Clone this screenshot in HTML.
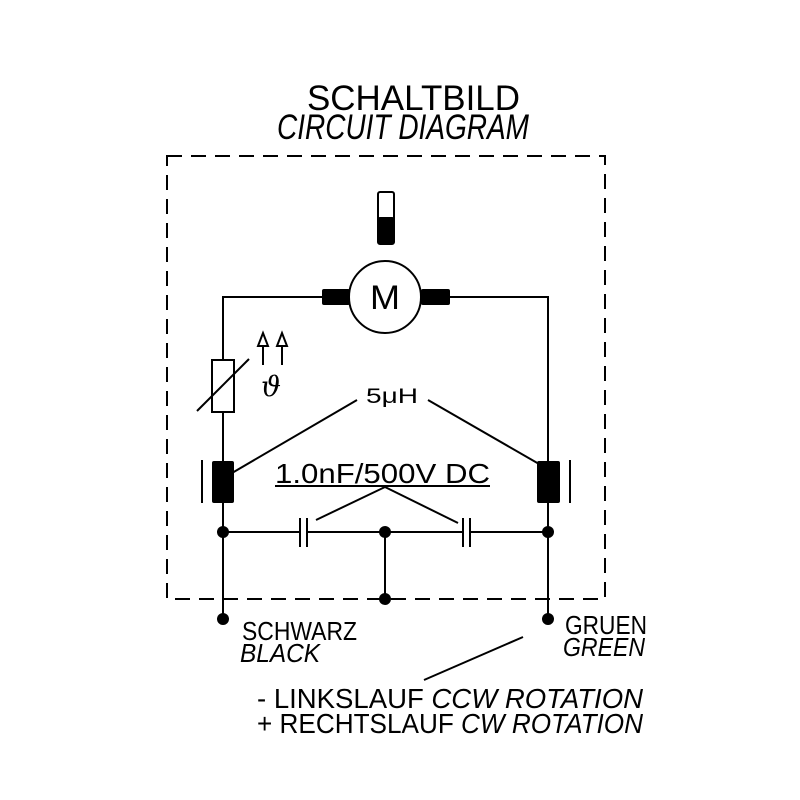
<!DOCTYPE html>
<html><head><meta charset="utf-8"><style>html,body{margin:0;padding:0;background:#fff}svg{display:block}</style></head>
<body>
<svg width="800" height="800" viewBox="0 0 800 800" xmlns="http://www.w3.org/2000/svg" font-family="Liberation Sans, sans-serif">
<rect width="800" height="800" fill="#fff"/>
<g fill="#000" font-size="35">
<text x="307" y="110" textLength="213" lengthAdjust="spacingAndGlyphs">SCHALTBILD</text>
<text x="277" y="139" textLength="252" lengthAdjust="spacingAndGlyphs" font-style="italic">CIRCUIT DIAGRAM</text>
</g>
<rect x="167" y="156" width="438" height="443" fill="none" stroke="#000" stroke-width="2" stroke-dasharray="15,9"/>
<g stroke="#000" stroke-width="2" fill="none">
<polyline points="223,619 223,297 323,297"/>
<polyline points="450,297 548,297 548,619"/>
<circle cx="385" cy="297" r="36" fill="#fff"/>
<rect x="378" y="192" width="16" height="52" rx="2" fill="#fff"/>
<rect x="212" y="360" width="22" height="52" fill="#fff"/>
<line x1="197" y1="411" x2="249" y2="359"/>
<line x1="263" y1="365" x2="263" y2="345"/>
<line x1="282" y1="365" x2="282" y2="345"/>
<polygon points="258,346 263,333 268,346"/>
<polygon points="277,346 282,333 287,346"/>
<line x1="357" y1="400" x2="232" y2="473"/>
<line x1="428" y1="400" x2="546" y2="468"/>
<line x1="202" y1="460" x2="202" y2="503"/>
<line x1="570" y1="460" x2="570" y2="503"/>
<line x1="275" y1="486" x2="490" y2="486"/>
<line x1="385" y1="487" x2="316" y2="520"/>
<line x1="385" y1="487" x2="458" y2="523"/>
<line x1="223" y1="532" x2="300" y2="532"/>
<line x1="307" y1="532" x2="463" y2="532"/>
<line x1="470" y1="532" x2="548" y2="532"/>
<line x1="300" y1="518" x2="300" y2="547"/>
<line x1="307" y1="518" x2="307" y2="547"/>
<line x1="463" y1="518" x2="463" y2="547"/>
<line x1="470" y1="518" x2="470" y2="547"/>
<line x1="385" y1="532" x2="385" y2="599"/>
<line x1="424" y1="680" x2="523" y2="637"/>
</g>
<g fill="#000">
<rect x="378" y="217" width="16" height="27" rx="2"/>
<rect x="322" y="289" width="28" height="16" rx="2"/>
<rect x="421" y="289" width="29" height="16" rx="2"/>
<rect x="212" y="461" width="22" height="42" rx="2"/>
<rect x="537" y="461" width="23" height="42" rx="2"/>
<circle cx="223" cy="532" r="6"/><circle cx="385" cy="532" r="6"/><circle cx="548" cy="532" r="6"/>
<circle cx="385" cy="599" r="6"/>
<circle cx="223" cy="619" r="6"/><circle cx="548" cy="619" r="6"/>
</g>
<g fill="#000">
<text x="370" y="309" font-size="34" textLength="30" lengthAdjust="spacingAndGlyphs">M</text>
<text x="261" y="396" font-size="28" font-style="italic" font-family="DejaVu Serif, serif">ϑ</text>
<text x="366" y="403" font-size="21" textLength="52" lengthAdjust="spacingAndGlyphs">5μH</text>
<text x="275" y="483" font-size="28" textLength="215" lengthAdjust="spacingAndGlyphs">1.0nF/500V DC</text>
<text x="242" y="640" font-size="26" textLength="115" lengthAdjust="spacingAndGlyphs">SCHWARZ</text>
<text x="240" y="662" font-size="26" textLength="80" lengthAdjust="spacingAndGlyphs" font-style="italic">BLACK</text>
<text x="565" y="634" font-size="26" textLength="82" lengthAdjust="spacingAndGlyphs">GRUEN</text>
<text x="563" y="656" font-size="26" textLength="82" lengthAdjust="spacingAndGlyphs" font-style="italic">GREEN</text>
<text x="257" y="708" font-size="28" textLength="386" lengthAdjust="spacingAndGlyphs">- LINKSLAUF <tspan font-style="italic">CCW ROTATION</tspan></text>
<text x="257" y="733" font-size="28" textLength="386" lengthAdjust="spacingAndGlyphs">+ RECHTSLAUF <tspan font-style="italic">CW ROTATION</tspan></text>
</g>
</svg>
</body></html>
